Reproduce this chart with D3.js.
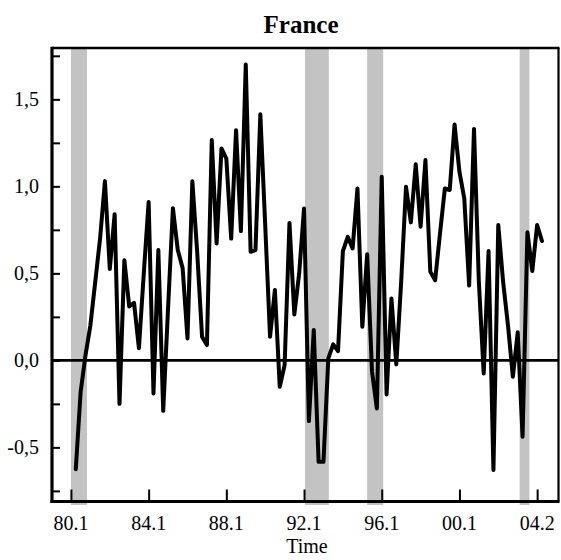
<!DOCTYPE html>
<html>
<head>
<meta charset="utf-8">
<script src="https://cdn.jsdelivr.net/npm/d3@7"></script>
<style>
  html, body { margin: 0; padding: 0; background: #fff; }
  svg { display: block; }
</style>
</head>
<body>
<svg id="chart" width="561" height="560"></svg>
<script>
// Quarterly series for France, first observation 1980Q2 (quarter index 1, 1980Q1 = 0)
const firstIndex = 1;
const values = [
  -0.625, -0.18, 0.03, 0.20, 0.45, 0.70, 1.03, 0.525, 0.84, -0.25,
  0.575, 0.31, 0.33, 0.07, 0.50, 0.91, -0.19, 0.634, -0.29, 0.30,
  0.874, 0.634, 0.53, 0.126, 1.03, 0.62, 0.136, 0.088, 1.266, 0.672,
  1.218, 1.16, 0.70, 1.323, 0.743, 1.70, 0.624, 0.634, 1.414, 0.78,
  0.136, 0.404, -0.152, -0.027, 0.79, 0.264, 0.50, 0.873, -0.349, 0.174,
  -0.583, -0.583, 0.011, 0.092, 0.053, 0.628, 0.71, 0.643, 0.988, 0.193,
  0.61, -0.065, -0.276, 1.055, -0.196, 0.356, -0.023, 0.45, 0.998, 0.793,
  1.127, 0.768, 1.151, 0.51, 0.46, 0.73, 0.988, 0.979, 1.356, 1.084,
  0.93, 0.43, 1.33, 0.45, -0.075, 0.628, -0.63, 0.778, 0.45, 0.2,
  -0.094, 0.161, -0.439, 0.736, 0.513, 0.778, 0.686
];

// Recession periods, in quarter index from 1980Q1
const recessionStart = [0, 48.2, 61, 92.4];
const recessionEnd   = [3.3, 53.1, 64.3, 94.4];

// Axis ticks
const xTickIndex  = [0, 16, 32, 48, 64, 80, 96];
const xTickLabels = ["80.1", "84.1", "88.1", "92.1", "96.1", "00.1", "04.2"];
const yMinorTicks = [-0.75, -0.5, -0.25, 0, 0.25, 0.5, 0.75, 1.0, 1.25, 1.5, 1.75];
const yTickValues = [-0.5, 0, 0.5, 1.0, 1.5];
const yTickLabels = ["-0,5", "0,0", "0,5", "1,0", "1,5"];

const title = "France";
const xTitle = "Time";

const svg = d3.select("#chart");
const plot = { left: 52, right: 558.5, top: 48, bottom: 501.5 };

const x = d3.scaleLinear().domain([-3.9, 100.4]).range([plot.left, plot.right]);
const y = d3.scaleLinear().domain([-0.811, 1.795]).range([plot.bottom, plot.top]);

const font = "'Liberation Serif', 'Times New Roman', serif";

// Recession shading
svg.append("g")
  .selectAll("rect")
  .data(recessionStart.map((s, k) => ({ s, e: recessionEnd[k] })))
  .join("rect")
  .attr("x", d => x(d.s))
  .attr("width", d => x(d.e) - x(d.s))
  .attr("y", plot.top)
  .attr("height", plot.bottom - plot.top + 3.5)
  .attr("fill", "#c3c3c3");

// Zero line
svg.append("line")
  .attr("x1", plot.left).attr("x2", plot.right)
  .attr("y1", y(0)).attr("y2", y(0))
  .attr("stroke", "#000").attr("stroke-width", 2.6);

// Series line
const series = values.map((v, k) => ({ i: firstIndex + k, v }));
svg.append("path")
  .datum(series)
  .attr("fill", "none")
  .attr("stroke", "#000")
  .attr("stroke-width", 4)
  .attr("stroke-linejoin", "round")
  .attr("stroke-linecap", "round")
  .attr("d", d3.line().x(d => x(d.i)).y(d => y(d.v)));

// Frame: top and right borders
svg.append("line")
  .attr("x1", plot.left).attr("x2", plot.right + 1)
  .attr("y1", plot.top).attr("y2", plot.top)
  .attr("stroke", "#000").attr("stroke-width", 2.6);
svg.append("line")
  .attr("x1", plot.right).attr("x2", plot.right)
  .attr("y1", plot.top).attr("y2", plot.bottom)
  .attr("stroke", "#000").attr("stroke-width", 2.2);

// Left axis with inward ticks
const yAxis = d3.axisRight(y)
  .tickValues(yMinorTicks)
  .tickSize(8)
  .tickFormat("");
const gy = svg.append("g").attr("transform", `translate(${plot.left},0)`).call(yAxis);
gy.select(".domain").remove();
gy.selectAll(".tick line").attr("stroke", "#000").attr("stroke-width", 2);
svg.append("line")
  .attr("x1", plot.left).attr("x2", plot.left)
  .attr("y1", plot.top - 1.3).attr("y2", plot.bottom + 1.5)
  .attr("stroke", "#000").attr("stroke-width", 3.2);

// Y tick labels
svg.append("g")
  .selectAll("text")
  .data(yTickValues)
  .join("text")
  .attr("x", 39)
  .attr("y", d => y(d) + 6.5)
  .attr("text-anchor", "end")
  .attr("font-family", font)
  .attr("font-size", 20)
  .attr("fill", "#000")
  .text((d, k) => yTickLabels[k]);

// Bottom axis with inward ticks
const xAxis = d3.axisTop(x)
  .tickValues(xTickIndex)
  .tickSize(12)
  .tickFormat("");
const gx = svg.append("g").attr("transform", `translate(0,${plot.bottom})`).call(xAxis);
gx.select(".domain").remove();
gx.selectAll(".tick line").attr("stroke", "#000").attr("stroke-width", 2);
svg.append("line")
  .attr("x1", plot.left - 1.5).attr("x2", plot.right + 1)
  .attr("y1", plot.bottom).attr("y2", plot.bottom)
  .attr("stroke", "#000").attr("stroke-width", 3.2);

// X tick labels
svg.append("g")
  .selectAll("text")
  .data(xTickIndex)
  .join("text")
  .attr("x", d => x(d))
  .attr("y", 530)
  .attr("text-anchor", "middle")
  .attr("font-family", font)
  .attr("font-size", 20)
  .attr("fill", "#000")
  .text((d, k) => xTickLabels[k]);

// Axis title
svg.append("text")
  .attr("x", 307).attr("y", 553)
  .attr("text-anchor", "middle")
  .attr("font-family", font)
  .attr("font-size", 20)
  .attr("fill", "#000")
  .text(xTitle);

// Chart title
svg.append("text")
  .attr("x", 301).attr("y", 33)
  .attr("text-anchor", "middle")
  .attr("font-family", font)
  .attr("font-weight", "bold")
  .attr("font-size", 25)
  .attr("fill", "#000")
  .text(title);
</script>
</body>
</html>
